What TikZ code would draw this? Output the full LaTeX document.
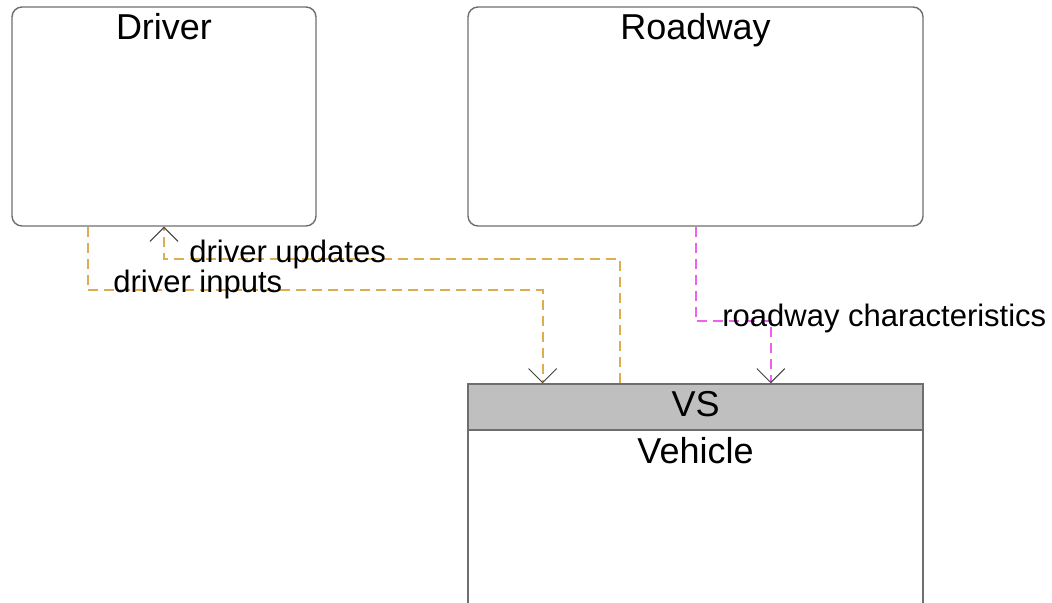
\documentclass[tikz,border=0pt]{standalone}
\usepackage{fontspec}
\setmainfont{Liberation Sans}
\usepackage{xcolor}
\usetikzlibrary{arrows.meta,calc}

\definecolor{boxgray}{RGB}{110,110,110}
\definecolor{headgray}{RGB}{191,191,191}
\definecolor{flowgold}{RGB}{222,172,82}
\definecolor{flowpink}{RGB}{240,96,240}
\definecolor{tipgray}{RGB}{64,64,64}

\begin{document}
\begin{tikzpicture}[
      x=0.5pt, y=-0.5pt,
      box/.style={draw=boxgray, line width=0.7pt, minimum width=227.5pt,
                  inner sep=0pt},
      rbox/.style={box, rounded corners=5pt, minimum height=109.5pt},
      title/.style={font=\fontsize{18}{21}\selectfont, anchor=base},
      lbl/.style={font=\fontsize{15.5}{18}\selectfont, anchor=base west,
                  inner sep=0pt},
      flow/.style={line width=1pt, dash pattern=on 5pt off 3pt},
      >={Straight Barb[length=7pt, width=14pt, line width=0.5pt, color=tipgray]}]

    \useasboundingbox (0,0) rectangle (1052,603);

    \node[rbox, minimum width=152pt] (driver) at (164,116.5) {};
    \node[title] at ($(driver.north)+(0,33)$) {Driver};

    \node[rbox] (roadway) at (695.5,116.5) {};
    \node[title] at ($(roadway.north)+(0,33)$) {Roadway};

    \node[box, minimum height=105pt] (vehicle) at (695.5,535) {};
    \node[title] at ($(vehicle.north)+(0,34)$) {Vehicle};
    \node[box, fill=headgray, minimum height=23pt] (vs) at (695.5,407) {};
    \node[title] at ($(vs.north)+(0,33)$) {VS};

    % driver -> vehicle
    \draw[flow, color=flowgold, ->]
      ($(driver.south west)!0.25!(driver.south east)$)
      |- ($(vs.north west)!0.165!(vs.north east)+(0,-93)$)
      -- ($(vs.north west)!0.165!(vs.north east)$);
    \node[lbl] (inputs) at (113,293) {driver inputs};

    % vehicle -> driver
    \draw[flow, color=flowgold, ->]
      ($(vs.north west)!0.334!(vs.north east)$)
      |- ($(driver.south)+(0,32)$) -- (driver.south);
    \node[lbl] (updates) at (189,263) {driver updates};

    % roadway -> vehicle
    \draw[flow, color=flowpink, ->]
      ($(roadway.south west)!0.50!(roadway.south east)$)
      |- ($(vs.north west)!0.665!(vs.north east)+(0,-62)$)
      -- ($(vs.north west)!0.665!(vs.north east)$);
    \node[lbl] (roadchar) at (722,327) {roadway characteristics};
  \end{tikzpicture}
\end{document}
